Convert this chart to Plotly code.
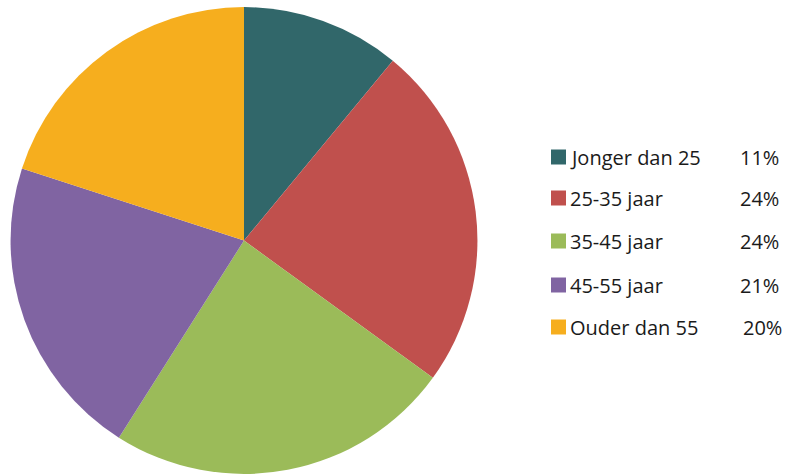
import plotly.graph_objects as go

categories = ["Jonger dan 25", "25-35 jaar", "35-45 jaar", "45-55 jaar", "Ouder dan 55"]
values = [11, 24, 24, 21, 20]
pct_labels = ["11%", "24%", "24%", "21%", "20%"]
colors = ["#31676A", "#C0504D", "#9BBB59", "#8064A2", "#F6AE1E"]

W, H = 787, 474

fig = go.Figure()
fig.add_trace(go.Pie(
    labels=categories, values=values, sort=False, direction="clockwise",
    rotation=0, textinfo="none", hoverinfo="label+percent",
    marker=dict(colors=colors, line=dict(width=0)),
    domain=dict(x=[10 / W, 478 / W], y=[0, 0.985]),
    showlegend=False,
))

row_y = [157, 198, 241, 285, 327]
pct_x = [781, 781, 781, 781, 784]
shapes = []
annotations = []
font = dict(family="Open Sans", size=20, color="#1a1a1a")
for i, cat in enumerate(categories):
    yc = 1 - row_y[i] / H
    shapes.append(dict(type="rect", xref="paper", yref="paper",
                       x0=551 / W, x1=566 / W,
                       y0=yc - 7.5 / H, y1=yc + 7.5 / H,
                       fillcolor=colors[i], line=dict(width=0)))
    annotations.append(dict(text=cat, xref="paper", yref="paper",
                            x=568 / W, y=yc, xanchor="left", yanchor="middle",
                            showarrow=False, font=font))
    annotations.append(dict(text=pct_labels[i], xref="paper", yref="paper",
                            x=pct_x[i] / W, y=yc, xanchor="right", yanchor="middle",
                            showarrow=False, font=font))

fig.update_layout(width=W, height=H, margin=dict(l=0, r=0, t=0, b=0),
                  paper_bgcolor="white", plot_bgcolor="white",
                  shapes=shapes, annotations=annotations)
fig.write_html("out.html", config={"displayModeBar": False},
               post_script="document.body.style.margin='0px';")
